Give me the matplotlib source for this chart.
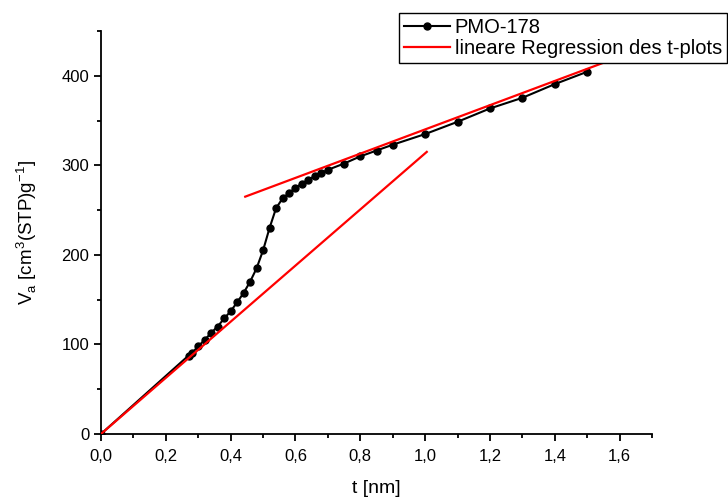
import numpy as np
import matplotlib.pyplot as plt
from matplotlib.ticker import MultipleLocator, FuncFormatter

plt.rcParams['font.family'] = ['Liberation Sans', 'DejaVu Sans']
plt.rcParams['mathtext.fontset'] = 'custom'
plt.rcParams['mathtext.rm'] = 'Liberation Sans'

# measured t-plot data
t = [0.0, 0.27, 0.28, 0.30, 0.32, 0.34, 0.36, 0.38, 0.40, 0.42, 0.44, 0.46, 0.48,
     0.50, 0.52, 0.54, 0.56, 0.58, 0.60, 0.62, 0.64, 0.66, 0.68, 0.70, 0.75,
     0.80, 0.85, 0.90, 1.0, 1.1, 1.2, 1.3, 1.4, 1.5]
va = [0, 87.5, 90, 98, 105, 113, 120, 129, 137, 147, 157.5, 170, 185,
      205, 230, 252, 263, 269, 275, 279.5, 284, 288, 291.5, 295, 302,
      310, 316.5, 323, 334.9, 348.6, 363.5, 375.4, 390.7, 404.5]

# linear regressions (endpoints)
reg1_t = [0.0, 1.005]
reg1_v = [0.0, 315.0]
reg2_t = [0.445, 1.62]
reg2_v = [265.0, 424.0]

fig = plt.figure(figsize=(7.28, 4.99), dpi=100)
ax = fig.add_axes([0.1387, 0.1303, 0.757, 0.8076])

ax.plot(t, va, color='black', lw=1.5, marker='o', ms=5, label='PMO-178', zorder=2)
ax.plot(reg1_t, reg1_v, color='red', lw=1.6, label='lineare Regression des t-plots', zorder=3)
ax.plot(reg2_t, reg2_v, color='red', lw=1.6, zorder=3)

ax.set_xlim(0, 1.7)
ax.set_ylim(0, 450)
ax.spines['top'].set_visible(False)
ax.spines['right'].set_visible(False)
ax.spines['left'].set_linewidth(1.3)
ax.spines['bottom'].set_linewidth(1.3)

ax.xaxis.set_major_locator(MultipleLocator(0.2))
ax.xaxis.set_minor_locator(MultipleLocator(0.1))
ax.yaxis.set_major_locator(MultipleLocator(100))
ax.yaxis.set_minor_locator(MultipleLocator(50))
ax.xaxis.set_major_formatter(FuncFormatter(lambda v, p: ('%.1f' % v).replace('.', ',')))
ax.tick_params(which='major', length=5, width=1.3, labelsize=12)
ax.tick_params(which='minor', length=3, width=1.3)
ax.tick_params(axis='x', which='major', pad=6)

ax.set_xlabel('t [nm]', fontsize=14, labelpad=11)
ax.set_ylabel(r'V$_\mathregular{a}$ [cm$^\mathregular{3}$(STP)g$^\mathregular{-1}$]', fontsize=13.5, labelpad=16)

leg = ax.legend(loc='upper right', bbox_to_anchor=(1.0 + 75/551, 1.0 + 18/403), fontsize=14.5,
                frameon=True, fancybox=False, edgecolor='black', framealpha=1,
                borderpad=0.25, handlelength=2.25, handletextpad=0.25, labelspacing=0.1,
                borderaxespad=0)
leg.get_frame().set_linewidth(1.0)
leg.set_zorder(5)

fig.savefig('out.png', dpi=100)
